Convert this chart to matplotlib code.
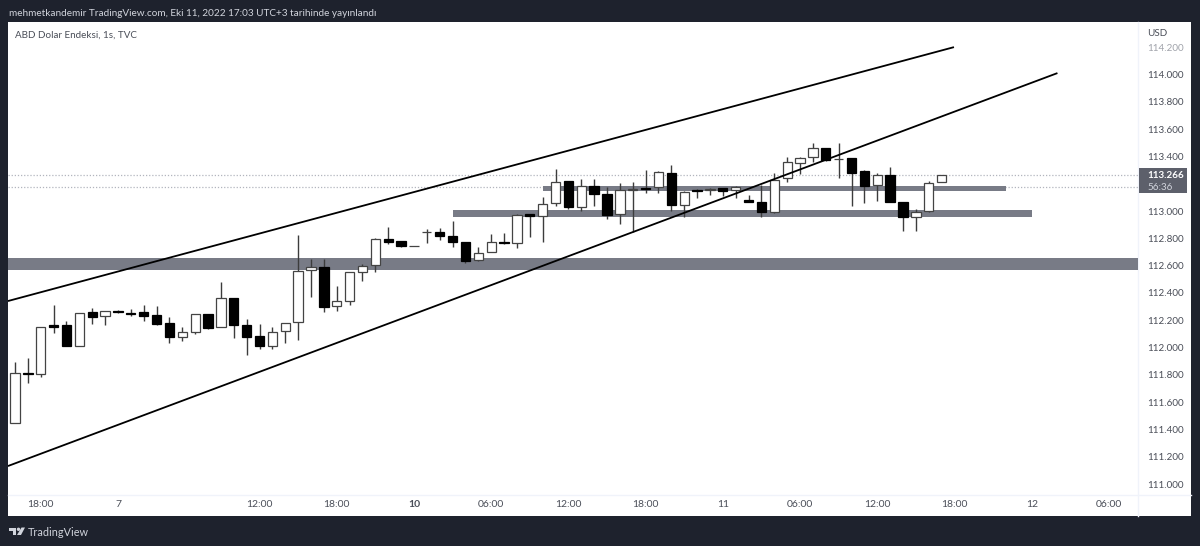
import matplotlib
matplotlib.use("Agg")
import matplotlib.pyplot as plt
from matplotlib.patches import Rectangle, Polygon, Circle

plt.rcParams['font.family'] = ['Lato', 'DejaVu Sans']

# candles (hourly)
opens = [111.45, 111.815, 111.805, 112.163, 112.168, 112.014, 112.258, 112.229, 112.266, 112.253,
         112.258, 112.236, 112.18, 112.08, 112.116, 112.248, 112.153, 112.365, 112.168, 112.085,
         112.009, 112.119, 112.185, 112.566, 112.592, 112.302, 112.341, 112.553, 112.602, 112.797,
         112.78, 112.744, 112.849, 112.844, 112.819, 112.771, 112.639, 112.7, 112.775, 112.768,
         112.978, 112.961, 113.056, 113.217, 113.031, 113.185, 113.124, 112.976, 113.154, 113.168,
         113.173, 113.28, 113.044, 113.154, 113.154, 113.171, 113.154, 113.078, 113.068, 112.995,
         113.239, 113.351, 113.398, 113.463, 113.383, 113.386, 113.29, 113.19, 113.261, 113.068,
         112.956, 112.998, 113.21]
highs = [111.897, 111.926, 112.15, 112.312, 112.193, 112.256, 112.288, 112.267, 112.275, 112.285,
         112.31, 112.305, 112.222, 112.149, 112.247, 112.249, 112.482, 112.366, 112.212, 112.171,
         112.153, 112.183, 112.824, 112.649, 112.649, 112.451, 112.552, 112.61, 112.8, 112.881,
         112.781, 112.744, 112.866, 112.873, 112.927, 112.772, 112.739, 112.832, 112.837, 112.98,
         112.979, 113.105, 113.31, 113.218, 113.235, 113.235, 113.178, 113.207, 113.21, 113.3,
         113.29, 113.335, 113.15, 113.16, 113.166, 113.172, 113.18, 113.118, 113.19, 113.276,
         113.398, 113.392, 113.496, 113.464, 113.5, 113.387, 113.3, 113.28, 113.324, 113.069,
         113.012, 113.218, 113.267]
lows = [111.45, 111.739, 111.783, 112.109, 112.012, 112.014, 112.175, 112.168, 112.25, 112.234,
        112.195, 112.165, 112.036, 112.046, 112.097, 112.135, 112.153, 112.07, 111.948, 111.992,
        111.992, 112.031, 112.058, 112.37, 112.263, 112.268, 112.314, 112.49, 112.553, 112.762,
        112.735, 112.744, 112.763, 112.788, 112.739, 112.622, 112.635, 112.7, 112.756, 112.729,
        112.807, 112.775, 113.04, 113.015, 112.998, 113.039, 112.944, 112.907, 112.844, 113.134,
        113.134, 113.002, 112.958, 113.097, 113.119, 113.112, 113.093, 113.066, 112.958, 112.985,
        113.21, 113.269, 113.359, 113.365, 113.239, 113.037, 113.061, 113.071, 113.064, 112.854,
        112.856, 112.995, 113.21]
closes = [111.812, 111.805, 112.149, 112.151, 112.012, 112.255, 112.226, 112.266, 112.258, 112.244,
          112.231, 112.175, 112.075, 112.114, 112.246, 112.146, 112.361, 112.165, 112.078, 112.012,
          112.114, 112.182, 112.561, 112.592, 112.297, 112.341, 112.551, 112.6, 112.793, 112.775,
          112.744, 112.744, 112.849, 112.817, 112.773, 112.632, 112.693, 112.775, 112.766, 112.971,
          112.961, 113.053, 113.212, 113.029, 113.183, 113.124, 112.969, 113.152, 113.161, 113.161,
          113.285, 113.042, 113.141, 113.146, 113.163, 113.149, 113.178, 113.066, 112.99, 113.229,
          113.357, 113.39, 113.463, 113.373, 113.383, 113.28, 113.181, 113.261, 113.064, 112.956,
          112.995, 113.207, 113.266]

# zones: start bar, end bar, top price, bottom price
zone_left = [-0.55, 34.0, 41.0]
zone_right = [87.3, 79.0, 77.0]
zone_top = [112.656, 113.007, 113.18]
zone_bottom = [112.568, 112.956, 113.147]

# trend lines
upper_x = [-0.55, 72.96]
upper_y = [112.341, 114.2]
lower_x = [-0.55, 81.0]
lower_y = [111.133, 114.01]

last_price = 113.266
prev_close = 113.176

# 113.200 sits behind the price tag in the original, so it is left out
price_ticks = [111.0, 111.2, 111.4, 111.6, 111.8, 112.0, 112.2, 112.4, 112.6, 112.8,
               113.0, 113.4, 113.6, 113.8, 114.0, 114.2]
time_pos = [2, 8, 19, 25, 31, 37, 43, 49, 55, 61, 67, 73, 79, 85]
time_labels = ["18:00", "7", "12:00", "18:00", "10", "06:00", "12:00", "18:00", "11",
               "06:00", "12:00", "18:00", "12", "06:00"]

BG = "#1e222d"
TXT = "#4a4e58"
W, H = 1200, 546

fig = plt.figure(figsize=(12, 5.46), dpi=100, facecolor=BG)

# chrome in pixel coordinates
chrome = fig.add_axes([0, 0, 1, 1], zorder=0)
chrome.set_xlim(0, W)
chrome.set_ylim(H, 0)
chrome.axis("off")
chrome.add_patch(Rectangle((8, 22), 1183, 494, fc="white", ec="none"))
chrome.plot([1138, 1138], [22, 516], color="#f0f3fa", lw=1)
chrome.plot([8, 1191], [495, 495], color="#f0f3fa", lw=1)

ax = fig.add_axes([8 / W, 1 - 495 / H, 1130 / W, 473 / H], zorder=1)
ax.patch.set_alpha(0)
ax.set_xlim(-0.544, 87.26)
ax.set_ylim(110.921, 114.384)
for s in ax.spines.values():
    s.set_visible(False)

ax.axhline(last_price, color="#b2b5be", lw=0.9, ls=(0, (1, 1.5)), zorder=1)
ax.axhline(prev_close, color="#b2b5be", lw=0.9, ls=(0, (1, 1.5)), zorder=1)

for i in range(len(zone_left)):
    ax.add_patch(Rectangle((zone_left[i], zone_bottom[i]), zone_right[i] - zone_left[i],
                           zone_top[i] - zone_bottom[i], fc="#787b86", ec="none", zorder=2))

# candles
xs = list(range(len(opens)))
ax.vlines(xs, lows, highs, color="#3c3c3c", lw=1.0, zorder=3)
for i in xs:
    up = closes[i] >= opens[i]
    ax.bar(i, abs(closes[i] - opens[i]), bottom=min(opens[i], closes[i]), width=0.72,
           color="white" if up else "black", edgecolor="#444444" if up else "black",
           linewidth=0.9, zorder=4)

ax.plot(upper_x, upper_y, color="black", lw=1.3, zorder=5, solid_capstyle="butt")
ax.plot(lower_x, lower_y, color="black", lw=1.3, zorder=5, solid_capstyle="butt")

ax.yaxis.tick_right()
ax.set_yticks(price_ticks)
ax.set_yticklabels([f"{p:.3f}" for p in price_ticks])
ax.tick_params(axis="y", length=0, pad=6.5, labelsize=7.1, labelcolor=TXT)
ax.get_yticklabels()[-1].set_color("#a0a3aa")
ax.set_xticks(time_pos)
ax.set_xticklabels(time_labels)
ax.tick_params(axis="x", length=0, pad=3.5, labelsize=7.5, labelcolor=TXT)
ax.get_xticklabels()[4].set_fontweight("bold")

# header, footer, price tag on top of everything
over = fig.add_axes([0, 0, 1, 1], zorder=2)
over.set_xlim(0, W)
over.set_ylim(H, 0)
over.axis("off")
over.text(9, 13, "mehmetkandemir TradingView.com, Eki 11, 2022 17:03 UTC+3 tarihinde yayınlandı",
          color="#d1d4dc", fontsize=7.2, va="center", ha="left")
over.text(15, 35.5, "ABD Dolar Endeksi, 1s, TVC", color=TXT, fontsize=7.1, va="center", ha="left")
over.text(1147, 33, "USD", color=TXT, fontsize=7.1, va="center", ha="left")

over.add_patch(Rectangle((1139, 168), 48, 25, fc="#5d606b", ec="none"))
over.text(1147, 175, "113.266", color="white", fontsize=7.1, fontweight="bold", va="center", ha="left")
over.text(1147, 187, "56:36", color="#d1d4dc", fontsize=7.1, va="center", ha="left")

# TradingView logo
logo = "#d1d4dc"
over.add_patch(Polygon([(9, 527.5), (16, 527.5), (16, 535), (12.5, 535), (12.5, 530.5), (9, 530.5)], fc=logo, ec="none"))
over.add_patch(Circle((18.5, 529.3), 1.7, fc=logo, ec="none"))
over.add_patch(Polygon([(21.5, 527.5), (25, 527.5), (21, 535), (17, 535)], fc=logo, ec="none"))
over.text(28, 532, "TradingView", color=logo, fontsize=7.8, va="center", ha="left")

fig.savefig("out.png", dpi=100, facecolor=BG)
